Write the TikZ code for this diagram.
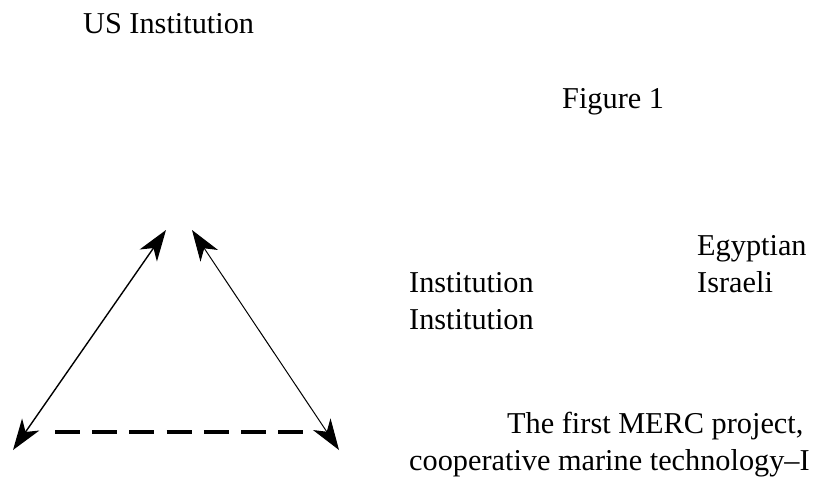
\documentclass[tikz,border=0pt]{standalone}
\usepackage{fontspec}
\setmainfont{Liberation Serif}
\usetikzlibrary{arrows.meta}
\tikzset{
  lbl/.style={anchor=base west, inner sep=0pt, font=\fontsize{30.3}{37}\selectfont},
  bigarrow/.style={{Stealth[length=31pt,width=21pt,inset=9pt]}-{Stealth[length=31pt,width=21pt,inset=9pt]}, line join=miter},
  dashline/.style={line width=4pt, dash pattern=on 25pt off 12.2pt}
}
\begin{document}
\begin{tikzpicture}[x=1pt,y=-1pt]
\useasboundingbox (0,0) rectangle (830,483);
\node[lbl] (us) at (83,33) {US Institution};
\node[lbl] (fig) at (562,108) {Figure 1};
\node[lbl] (egy) at (697,255) {Egyptian};
\node[lbl] (isr) at (697,292) {Israeli};
\node[lbl] (inst1) at (409,292) {Institution};
\node[lbl] (inst2) at (409,329) {Institution};
\node[lbl] (merc) at (507,433) {The first MERC project,};
\node[lbl] (coop) at (409,470) {cooperative marine technology--I};
\coordinate (topl) at (166,230);
\coordinate (topr) at (192,230);
\coordinate (botl) at (13,450);
\coordinate (botr) at (339,450);
\coordinate (dashl) at (55,432);
\coordinate (dashr) at (303,432);
\draw[bigarrow, line width=1.4pt] (botl) -- (topl);
\draw[bigarrow, line width=1pt] (topr) -- (botr);
\draw[dashline] (dashl) -- (dashr);
\end{tikzpicture}
\end{document}
